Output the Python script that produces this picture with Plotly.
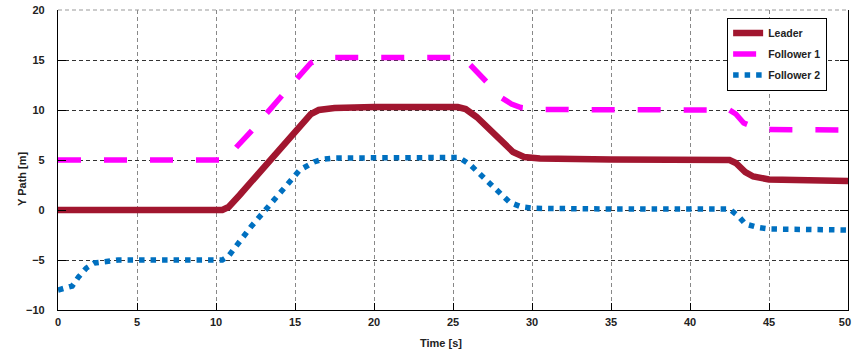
import plotly.graph_objects as go

# ---- data ----
leader_t = [0, 10.4, 10.8, 11.5, 16.0, 16.5, 17.5, 20, 25.3, 25.8, 26.5, 28.8, 29.5, 30.5, 35, 42.5, 42.9, 43.5, 44.0, 45, 50]
leader_y = [0, 0, 0.3, 1.5, 9.6, 10.0, 10.2, 10.3, 10.3, 10.1, 9.3, 5.8, 5.3, 5.15, 5.05, 5.0, 4.7, 3.8, 3.35, 3.05, 2.9]

f1_t = [0, 10.6, 11.3, 12.3, 14.1, 16.0, 16.6, 17.5, 20, 25.6, 26.1, 26.9, 28.1, 28.7, 29.3, 30.5, 35, 42.5, 42.9, 43.4, 44.2, 45, 50]
f1_y = [5, 5, 6.3, 8.0, 11.3, 14.7, 15.1, 15.25, 15.25, 15.25, 14.5, 13.2, 11.2, 10.6, 10.25, 10.05, 10.0, 10.0, 9.6, 8.7, 8.2, 8.05, 8.0]

f2_t = [0, 0.9, 1.3, 1.8, 2.3, 3.1, 3.8, 10.4, 10.8, 12.2, 15.3, 16.2, 16.7, 17.5, 20, 25.4, 26.1, 27.6, 28.6, 29.3, 30.1, 35, 42.5, 43.1, 43.5, 44.3, 45, 50]
f2_y = [-8, -7.6, -6.7, -5.8, -5.3, -5.07, -5.0, -5.0, -4.6, -1.7, 4.0, 4.8, 5.07, 5.2, 5.25, 5.25, 4.5, 2.3, 0.75, 0.33, 0.17, 0.1, 0.1, -0.67, -1.4, -1.75, -1.9, -2.0]

x_ticks = [0, 5, 10, 15, 20, 25, 30, 35, 40, 45, 50]
x_tick_labels = ["0", "5", "10", "15", "20", "25", "30", "35", "40", "45", "50\u00a0\u00a0"]
y_ticks = [-10, -5, 0, 5, 10, 15, 20]

FONT = "Liberation Sans, Arial, sans-serif"

fig = go.Figure()
fig.add_trace(go.Scatter(x=leader_t, y=leader_y, mode="lines", name="Leader", legendgroup="a",
                         line=dict(color="#A1162F", width=6.5)))
fig.add_trace(go.Scatter(x=f1_t, y=f1_y, mode="lines", name="Follower 1", legendgroup="b",
                         line=dict(color="#FF00FF", width=5.5, dash="23px,23px")))
fig.add_trace(go.Scatter(x=f2_t, y=f2_y, mode="lines", name="Follower 2", legendgroup="c",
                         line=dict(color="#0070C0", width=5.5, dash="5.5px,6px")))

fig.update_layout(
    width=852, height=354,
    margin=dict(l=58, r=4, t=10, b=44),
    paper_bgcolor="white", plot_bgcolor="white",
    font=dict(family=FONT, size=11, color="#222", weight="bold"),
    showlegend=True,
    legend=dict(x=0.847, y=0.975, xanchor="left", yanchor="top",
                bgcolor="white", bordercolor="black", borderwidth=1,
                font=dict(family=FONT, size=10.5, color="#222", weight="bold"),
                tracegroupgap=2, traceorder="grouped",
                entrywidth=112, entrywidthmode="pixels"),
    xaxis=dict(range=[0, 50], tickvals=x_ticks, ticktext=x_tick_labels,
               ticks="inside", ticklen=7, tickcolor="black",
               showline=True, linecolor="black", linewidth=1.2, mirror=False,
               showgrid=True, gridcolor="#888888", griddash="4px,3px", gridwidth=1,
               zeroline=False, ticklabelstandoff=2, automargin=False,
               ticklabeloverflow="allow"),
    yaxis=dict(range=[-10, 20], tickvals=y_ticks, ticks="inside", ticklen=8, tickcolor="black",
               showline=True, linecolor="black", linewidth=1.2, mirror="ticks",
               showgrid=True, gridcolor="#333333", griddash="4px,3px", gridwidth=1,
               zeroline=False, ticklabelstandoff=10, automargin=False,
               ticklabeloverflow="allow"),
    shapes=[dict(type="line", xref="paper", yref="paper", x0=0, x1=1, y0=1, y1=1,
                 line=dict(color="#999999", width=1, dash="4px,3px"))],
    annotations=[
        dict(text="Time [s]", xref="paper", yref="paper", x=0.485, y=-0.11,
             xanchor="center", yanchor="middle", showarrow=False,
             font=dict(family=FONT, size=11, color="#222", weight="bold")),
        dict(text="Y Path [m]", xref="paper", yref="paper", x=-0.0456, y=0.44,
             xanchor="center", yanchor="middle", showarrow=False, textangle=-90,
             font=dict(family=FONT, size=11, color="#222", weight="bold")),
    ],
)

fig.write_html("out.html", config={"displayModeBar": False},
               post_script="document.body.style.margin='0px';")
